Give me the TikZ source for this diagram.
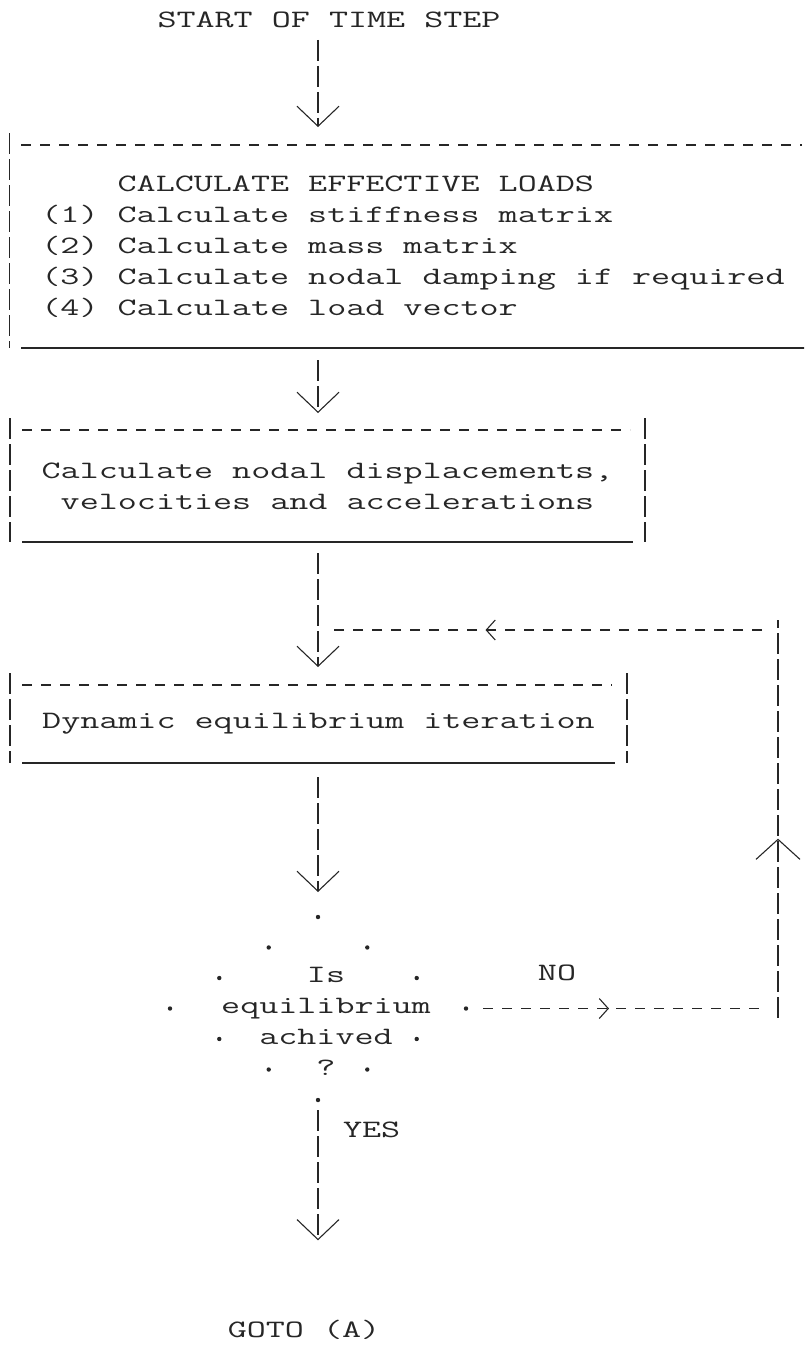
\documentclass[tikz,border=0pt]{standalone}
\usepackage{fontspec}
\setmonofont[FakeStretch=1.48]{Latin Modern Mono}
\usetikzlibrary{calc,arrows.meta,shapes.geometric,decorations.markings}
\definecolor{ink}{gray}{0.15}

\begin{document}
\begin{tikzpicture}[x=1pt, y=-1pt, >={Straight Barb[length=20pt,width=42pt]},
    every node/.style={font=\ttfamily\fontsize{25}{31}\selectfont, text=ink,
      inner sep=0pt, outer sep=0pt},
    hdash/.style={draw=ink, line width=1.1pt, dash pattern=on 10pt off 9pt},
    vdash/.style={draw=ink, line width=1.1pt, dash pattern=on 21pt off 5pt},
    flow/.style={vdash, ->},
    underline/.style={draw=ink, line width=1.3pt},
    chevron/.style={postaction={decorate, decoration={markings,
      mark=at position #1 with {\arrow{Straight Barb[length=9pt,width=20pt]}}}}},
    bigchevron/.style={postaction={decorate, decoration={markings,
      mark=at position #1 with {\arrow{Straight Barb[length=20pt,width=44pt]}}}}}]

  % Page
  \useasboundingbox (0,0) rectangle (804,1345);
  \clip (0,0) rectangle (804,1345);

  % Boxes and texts
  \node (start) at (329,20) {START OF TIME STEP};
  \node[inner xsep=32pt, minimum height=203, align=left] (loads)
    at (413,246.5) {\hphantom{(1) }CALCULATE EFFECTIVE LOADS\\
      (1) Calculate stiffness matrix\\(2) Calculate mass matrix\\
      (3) Calculate nodal damping if required\\(4) Calculate load vector};
  \node[minimum width=635, minimum height=112, align=center] (motion)
    at (327.5,486) {Calculate nodal displacements,\\velocities and accelerations};
  \node[minimum width=617, minimum height=78] (iter)
    at (318.5,724) {Dynamic equilibrium iteration};

  % Decision
  \node[diamond, minimum width=296, minimum height=183] (check) at (318,1008.5) {};
  \node[align=center] (question) at (326,1021) {Is\\equilibrium\\achived\\?};
  \node (nolabel) at (557,973) {NO};
  \node[anchor=west] (yeslabel) at (343,1130) {YES};
  \node (goto) at (304,1330) {GOTO (A)};

  % Box borders: dashes on top, underscores below, bars at the sides
  \foreach \b in {loads,motion,iter}{
    \draw[hdash] ($(\b.north west)+(12,0)$) -- ($(\b.north east)+(-15,0)$);
    \draw[underline] ($(\b.south west)+(12,0)$) -- ($(\b.south east)+(-12,0)$);
    \draw[vdash] ($(\b.north west)+(0,-12)$) -- (\b.south west);
    \draw[vdash] ($(\b.north east)+(0,-12)$) -- (\b.south east);
  }

  % Dotted diamond
  \foreach \p/\q in {north/west,west/south,south/east,east/north}
    \foreach \t in {0,0.333,0.667}
      \fill[ink] ($(check.\p)!\t!(check.\q)$) circle (2.2pt);

  % Main flow
  \draw[flow] ($(start.south -| check)+(0,12)$) -- ($(loads.north -| check)+(0,-18)$);
  \draw[flow] ($(loads.south -| check)+(0,12)$) -- ($(motion.north -| check)+(0,-17)$);
  \draw[flow] ($(motion.south -| check)+(0,11)$) -- ($(iter.north -| check)+(0,-18)$);
  \draw[flow] ($(iter.south -| check)+(0,14)$) -- ($(check.north)+(0,-25)$);
  \draw[flow] ($(check.south)+(0,10)$) -- ($(goto.north -| check)+(0,-80)$);

  % Loop back when not in equilibrium
  \coordinate (noturn) at (778,1008.5);
  \coordinate (backturn) at (778,630);
  \draw[hdash, chevron=0.45] ($(check.east)+(17,0)$) -- ($(noturn)+(-15,0)$);
  \draw[vdash, bigchevron=0.45] ($(noturn)+(0,9)$) -- ($(backturn)+(0,-10)$);
  \draw[hdash, chevron=0.64] ($(backturn)+(-16,0)$) -- ($(backturn -| check)+(12,0)$);
\end{tikzpicture}
\end{document}
